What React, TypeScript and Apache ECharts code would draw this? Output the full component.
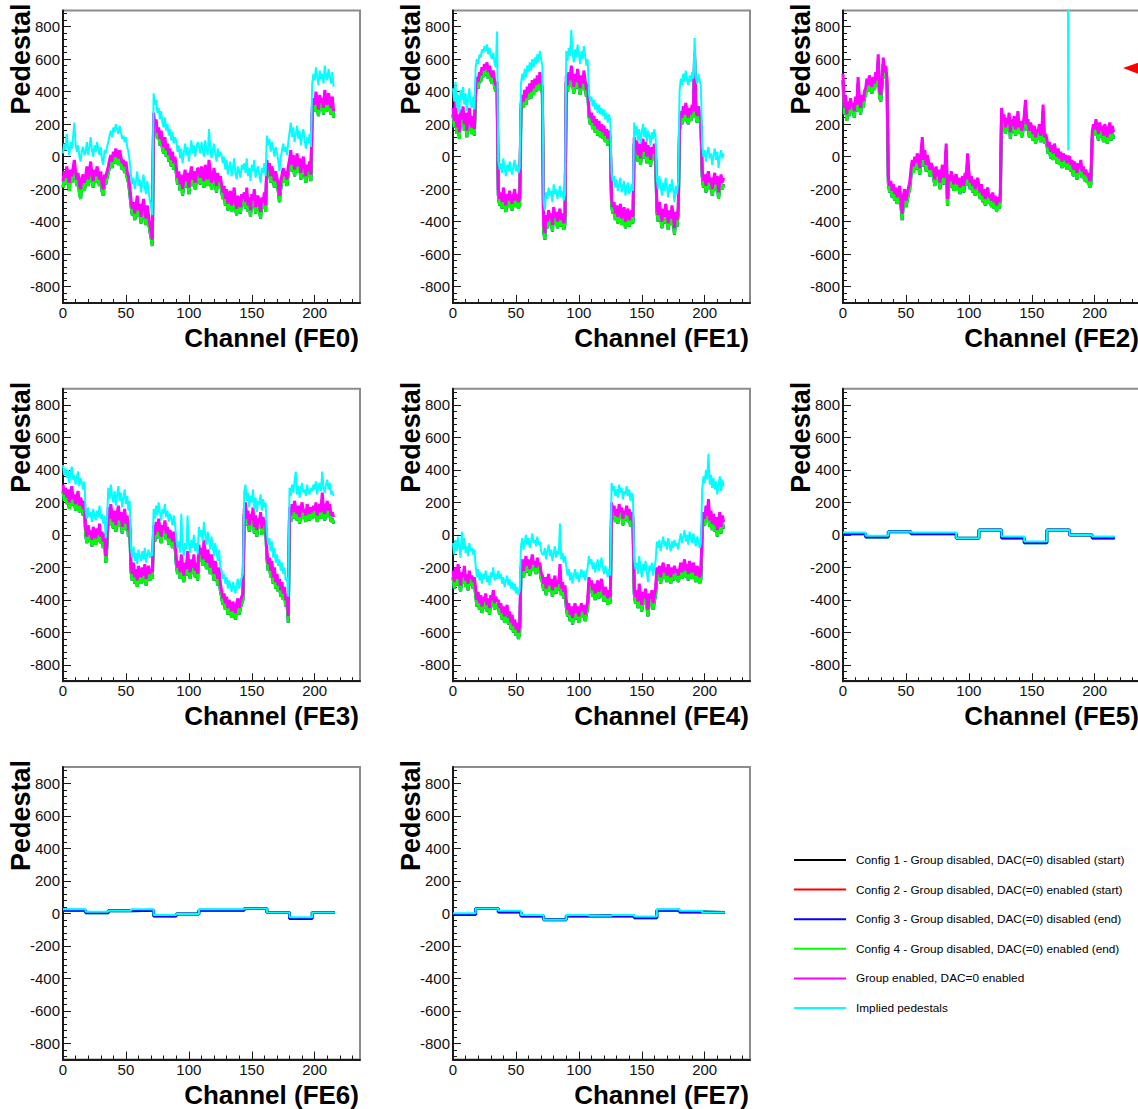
import React, { useEffect, useRef } from "react";
import * as echarts from "echarts";

// ---- Series names, colours and widths (legend order) ----
const SERIES_NAMES = [
  "Config 1 - Group disabled, DAC(=0) disabled (start)",
  "Config 2 - Group disabled, DAC(=0) enabled (start)",
  "Config 3 - Group disabled, DAC(=0) disabled (end)",
  "Config 4 - Group disabled, DAC(=0) enabled (end)",
  "Group enabled, DAC=0 enabled",
  "Implied pedestals",
];
const SERIES_COLORS = ["#000000", "#ff0000", "#0000ff", "#00ff00", "#ff00ff", "#00ffff"];
const SERIES_WIDTHS = [1, 1, 3, 3, 3, 2];

// ---- Axis ticks ----
const X_MIN = 0;
const X_MAX = 236;
const X_MAJOR = [0, 50, 100, 150, 200];
const X_MINOR = [10, 20, 30, 40, 60, 70, 80, 90, 110, 120, 130, 140, 160, 170, 180, 190, 210, 220, 230];
const Y_MIN = -900;
const Y_MAX = 900;
const Y_MAJOR = [-800, -600, -400, -200, 0, 200, 400, 600, 800];
const Y_MINOR = [
  -880, -840, -760, -720, -680, -640, -560, -520, -480, -440, -360, -320, -280, -240, -160, -120, -80, -40,
  40, 80, 120, 160, 240, 280, 320, 360, 440, 480, 520, 560, 640, 680, 720, 760, 840, 880,
];

// ---- FE0 pedestals per channel ----
const FE0_GRP = [
  -150, -90, -130, -60, -110, -160, -80, -120, -70, -20, -90, -140, -100, -170, -200, -130, -110, -160,
  -120, -60, -140, -90, -30, -110, -150, -80, -120, -60, -100, -140, -90, -170, -200, -110, -130, -90,
  -60, -20, 10, -30, 30, 0, 50, 20, -10, 40, 0, -40, -20, -60, -30, -90, -120, -180,
  -260, -320, -280, -350, -300, -240, -330, -290, -370, -310, -260, -340, -380, -300, -360, -420, -460, -510,
  270, 200, 230, 150, 180, 110, 160, 90, 60, 120, 40, 80, 10, 50, -20, 30, -40, 0,
  -60, -130, -90, -170, -110, -200, -140, -80, -150, -100, -190, -120, -60, -140, -90, -160, -110, -70,
  -80, -130, -60, -110, -150, -50, -100, -140, -20, -90, -160, -110, -70, -130, -180, -100, -150, -120,
  -170, -220, -180, -260, -200, -290, -240, -210, -300, -250, -190, -280, -320, -240, -270, -310, -230, -260,
  -220, -280, -190, -300, -250, -330, -230, -270, -200, -310, -260, -240, -290, -340, -250, -280, -220, -300,
  -20, -80, -40, -120, -60, -100, -150, -90, -130, -170, -240, -160, -110, -70, -120, -90, -140, -60,
  -20, 40, -50, 10, -80, -30, 20, -60, -10, -100, -40, 0, -70, -120, -50, -90, -30, -110,
  300, 360, 320, 400, 340, 290, 380, 330, 360, 300, 410, 350, 320, 390, 340, 300, 370, 280,
];
const FE0_IMP = [
  20, 80, 40, 140, 60, 10, 90, 50, 120, 210, 80, 30, 70, 0, -30, 40, 60, 10,
  30, 90, 10, 60, 120, 40, 0, 70, 30, 90, 50, 10, 60, -20, -50, 40, 20, 60,
  90, 130, 160, 120, 180, 150, 200, 170, 140, 190, 150, 110, 130, 90, 120, 60, 30, -30,
  -110, -170, -130, -200, -150, -90, -180, -140, -220, -160, -110, -190, -230, -150, -210, -270, -310, -360,
  390, 320, 350, 270, 300, 230, 280, 210, 180, 240, 160, 200, 130, 170, 100, 150, 80, 120,
  100, 30, 70, -10, 50, -40, 20, 80, 10, 60, -30, 40, 100, 20, 70, 0, 50, 90,
  70, 20, 90, 40, 0, 100, 50, 10, 170, 60, -10, 40, 80, 20, -30, 50, 0, 30,
  10, -40, 0, -80, -20, -110, -60, -30, -120, -70, -10, -100, -140, -60, -90, -130, -50, -80,
  -40, -100, -10, -120, -70, -150, -50, -90, -20, -130, -80, -60, -110, -160, -70, -100, -40, -120,
  130, 70, 110, 30, 90, 50, 0, 60, 20, -20, -90, -10, 40, 80, 30, 60, 10, 90,
  150, 210, 120, 180, 90, 140, 190, 110, 160, 70, 130, 170, 100, 50, 120, 80, 140, 60,
  450, 510, 470, 550, 490, 440, 530, 480, 510, 450, 560, 500, 470, 540, 490, 450, 520, 430,
];
const FE0_CFG = [
  -190, -130, -170, -100, -150, -210, -120, -160, -110, -60, -130, -180, -140, -220, -260, -170, -150, -210,
  -160, -100, -180, -130, -70, -150, -190, -120, -160, -100, -140, -180, -130, -210, -240, -150, -170, -130,
  -100, -60, -30, -70, -10, -40, 10, -20, -50, 0, -40, -80, -60, -100, -70, -130, -160, -220,
  -300, -360, -320, -390, -340, -280, -370, -330, -410, -350, -300, -380, -420, -340, -400, -460, -500, -550,
  230, 160, 190, 110, 140, 70, 120, 50, 20, 80, 0, 40, -30, 10, -60, -10, -80, -40,
  -100, -170, -130, -210, -150, -240, -180, -120, -190, -140, -230, -160, -100, -180, -130, -200, -150, -110,
  -120, -170, -100, -150, -190, -90, -140, -180, -60, -130, -200, -150, -110, -170, -220, -140, -190, -160,
  -210, -260, -220, -300, -240, -330, -280, -250, -340, -290, -230, -320, -360, -280, -310, -350, -270, -300,
  -260, -320, -230, -340, -290, -370, -270, -310, -240, -350, -300, -280, -330, -380, -290, -320, -260, -340,
  -60, -120, -80, -160, -100, -140, -190, -130, -170, -210, -280, -200, -150, -110, -160, -130, -180, -100,
  -60, 0, -90, -30, -120, -70, -20, -100, -50, -140, -80, -40, -110, -160, -90, -130, -70, -150,
  260, 320, 280, 360, 300, 250, 340, 290, 320, 260, 370, 310, 280, 350, 300, 260, 330, 240,
];

// ---- FE1 ----
const FE1_GRP = [
  300, 220, 340, 180, 260, 150, 290, 230, 310, 200, 270, 160, 240, 300, 210, 180, 250, 170,
  440, 490, 460, 520, 500, 550, 530, 570, 540, 580, 520, 560, 510, 490, 530, 470, 440, 460,
  -200, -260, -220, -280, -190, -250, -300, -230, -270, -210, -260, -290, -240, -200, -270, -230, -280, -250,
  320, 380, 340, 410, 360, 430, 390, 450, 400, 470, 420, 480, 440, 500, 450, 520, 470, 430,
  -420, -470, -360, -400, -330, -380, -350, -420, -310, -370, -340, -400, -360, -320, -390, -350, -410, -370,
  500, 440, 520, 470, 560, 490, 430, 510, 460, 540, 480, 420, 500, 450, 530, 470, 410, 450,
  290, 240, 270, 210, 250, 190, 230, 170, 220, 160, 200, 150, 190, 130, 170, 110, 160, 120,
  -260, -310, -280, -350, -300, -370, -330, -290, -380, -340, -310, -400, -350, -320, -390, -360, -330, -370,
  120, 40, 100, 10, 80, -10, 60, 110, 30, 90, 0, 70, 40, -20, 60, 20, 80, 30,
  -300, -360, -280, -340, -400, -320, -370, -290, -350, -410, -330, -380, -300, -360, -440, -340, -390, -310,
  200, 280, 240, 310, 260, 330, 270, 240, 300, 260, 320, 280, 640, 290, 250, 310, 270, 230,
  -80, -150, -110, -180, -120, -90, -160, -130, -200, -140, -100, -170, -120, -220, -150, -110, -160, -130,
];
const FE1_IMP = [
  420, 340, 460, 300, 380, 270, 410, 350, 430, 320, 390, 280, 360, 420, 330, 300, 370, 290,
  550, 600, 570, 630, 610, 660, 640, 680, 650, 690, 630, 670, 620, 600, 640, 580, 550, 770,
  -20, -80, -40, -100, -10, -70, -120, -50, -90, -30, -80, -110, -60, -20, -90, -50, -100, -70,
  450, 510, 470, 540, 490, 560, 520, 580, 530, 600, 550, 610, 570, 630, 580, 650, 600, 560,
  -280, -330, -220, -260, -190, -240, -210, -280, -170, -230, -200, -260, -220, -180, -250, -210, -270, -230,
  650, 590, 670, 620, 780, 640, 580, 660, 610, 690, 630, 570, 650, 600, 680, 620, 560, 600,
  390, 340, 370, 310, 350, 290, 330, 270, 320, 260, 300, 250, 290, 230, 270, 210, 260, 220,
  -100, -150, -120, -190, -140, -210, -170, -130, -220, -180, -150, -240, -190, -160, -230, -200, -170, -210,
  210, 130, 190, 100, 170, 80, 150, 200, 120, 180, 90, 160, 130, 70, 150, 110, 170, 120,
  -140, -200, -120, -180, -240, -160, -210, -130, -190, -250, -170, -220, -140, -200, -280, -180, -230, -150,
  400, 480, 440, 510, 460, 530, 470, 440, 500, 460, 520, 480, 730, 490, 450, 510, 470, 430,
  70, 0, 40, -30, 30, 60, -10, 20, -50, 10, 50, -20, 30, -70, 0, 40, -10, 20,
];
const FE1_CFG = [
  260, 180, 300, 140, 220, 110, 250, 190, 270, 160, 230, 120, 200, 260, 170, 140, 210, 130,
  400, 450, 420, 480, 460, 510, 490, 530, 500, 540, 480, 520, 470, 450, 490, 430, 400, 420,
  -240, -300, -260, -320, -230, -290, -340, -270, -310, -250, -300, -330, -280, -240, -310, -270, -320, -290,
  280, 340, 300, 370, 320, 390, 350, 410, 360, 430, 380, 440, 400, 460, 410, 480, 430, 390,
  -460, -510, -400, -440, -370, -420, -390, -460, -350, -410, -380, -440, -400, -360, -430, -390, -450, -410,
  460, 400, 480, 430, 520, 450, 390, 470, 420, 500, 440, 380, 460, 410, 490, 430, 370, 410,
  250, 200, 230, 170, 210, 150, 190, 130, 180, 120, 160, 110, 150, 90, 130, 70, 120, 80,
  -300, -350, -320, -390, -340, -410, -370, -330, -420, -380, -350, -440, -390, -360, -430, -400, -370, -410,
  80, 0, 60, -30, 40, -50, 20, 70, -10, 50, -40, 30, 0, -60, 20, -20, 40, -10,
  -340, -400, -320, -380, -440, -360, -410, -330, -390, -450, -370, -420, -340, -400, -480, -380, -430, -350,
  160, 240, 200, 270, 220, 290, 230, 200, 260, 220, 280, 240, 600, 250, 210, 270, 230, 190,
  -120, -190, -150, -220, -160, -130, -200, -170, -240, -180, -140, -210, -160, -260, -190, -150, -200, -170,
];

// ---- FE2 ----
const FE2_GRP = [
  510, 300, 380, 260, 340, 290, 360, 310, 330, 280, 370, 320, 490, 350, 300, 380, 340, 400,
  420, 480, 440, 500, 460, 430, 490, 450, 520, 470, 630, 410, 380, 470, 610, 520, 560, 480,
  -120, -180, -150, -210, -170, -230, -190, -250, -220, -180, -260, -350, -240, -200, -270, -230, -190, -160,
  -80, -20, -60, 0, -40, 20, -10, -70, 30, 120, -20, 40, -50, 10, -30, -80, -40, -60,
  -90, -140, -60, -120, -80, -160, -100, -50, -130, -70, 80, -260, -110, -150, -90, -130, -170, -120,
  -110, -170, -130, -190, -150, -120, -180, -100, -140, 20, -90, -160, -120, -180, -140, -200, -160, -130,
  -180, -220, -170, -240, -200, -260, -210, -190, -250, -230, -270, -220, -280, -240, -300, -250, -280, -230,
  300, 220, 260, 180, 240, 200, 270, 150, 230, 190, 250, 170, 210, 280, 180, 220, 160, 200,
  250, 350, 200, 230, 160, 210, 180, 140, 190, 120, 170, 150, 200, 130, 160, 320, 120, 140,
  110, 60, 90, 30, 70, 20, 80, 40, 0, 50, -10, 30, -30, 20, -20, 10, -40, 0,
  0, -50, -20, -80, -30, -60, -100, -40, -70, -20, -90, -60, -110, -80, -120, -100, -150, -130,
  150, 200, 170, 230, 180, 140, 210, 160, 190, 130, 200, 170, 120, 180, 210, 140, 190, 150,
];
// Implied pedestal for FE2 is off scale except at channel 179
const FE2_IMP_POINTS = [
  [178, 4000],
  [179, 40],
  [180, 4000],
];
const FE2_CFG = [
  470, 260, 340, 220, 300, 250, 320, 270, 290, 240, 330, 280, 450, 310, 260, 340, 300, 360,
  380, 440, 400, 460, 420, 390, 450, 410, 480, 430, 590, 370, 340, 430, 570, 480, 520, 440,
  -160, -220, -190, -250, -210, -270, -230, -290, -260, -220, -300, -390, -280, -240, -310, -270, -230, -200,
  -120, -60, -100, -40, -80, -20, -50, -110, -10, 80, -60, 0, -90, -30, -70, -120, -80, -100,
  -130, -180, -100, -160, -120, -200, -140, -90, -170, -110, 40, -300, -150, -190, -130, -170, -210, -160,
  -150, -210, -170, -230, -190, -160, -220, -140, -180, -20, -130, -200, -160, -220, -180, -240, -200, -170,
  -220, -260, -210, -280, -240, -300, -250, -230, -290, -270, -310, -260, -320, -280, -340, -290, -320, -270,
  260, 180, 220, 140, 200, 160, 230, 110, 190, 150, 210, 130, 170, 240, 140, 180, 120, 160,
  210, 310, 160, 190, 120, 170, 140, 100, 150, 80, 130, 110, 160, 90, 120, 280, 80, 100,
  70, 20, 50, -10, 30, -20, 40, 0, -40, 10, -50, -10, -70, -20, -60, -30, -80, -40,
  -40, -90, -60, -120, -70, -100, -140, -80, -110, -60, -130, -100, -150, -120, -160, -140, -190, -170,
  110, 160, 130, 190, 140, 100, 170, 120, 150, 90, 160, 130, 80, 140, 170, 100, 150, 110,
];

// ---- FE3 ----
const FE3_GRP = [
  310, 250, 290, 230, 280, 200, 260, 300, 220, 250, 190, 240, 270, 180, 230, 200, 160, 210,
  40, -10, 60, 0, 30, -30, 50, 10, -20, 40, 0, 70, -10, 20, -40, 10, -130, -20,
  170, 100, 190, 120, 80, 150, 60, 130, 180, 90, 140, 50, 110, 160, 70, 120, 30, 90,
  -180, -240, -170, -260, -210, -280, -190, -230, -260, -200, -250, -180, -270, -220, -190, -240, -210, -230,
  60, 0, 80, 20, 100, 40, -10, 60, 30, 90, 10, 50, -20, 30, 0, -40, 20, -30,
  -140, -200, -160, -230, -120, -190, -250, -170, -210, -100, -180, -230, -150, -200, -120, -220, -170, -240,
  -60, -120, -80, -150, -30, -110, -170, -90, -140, -200, -120, -180, -240, -160, -220, -270, -200, -300,
  -340, -390, -360, -420, -380, -450, -400, -430, -470, -410, -440, -480, -420, -390, -450, -410, -380, -360,
  160, 200, 100, 150, 60, 130, 90, 170, 50, 120, 30, 100, 80, 140, 40, 110, 60, 90,
  -100, -180, -140, -220, -160, -260, -200, -290, -240, -310, -270, -340, -290, -360, -320, -400, -380, -500,
  170, 120, 190, 140, 210, 160, 130, 180, 110, 170, 200, 140, 160, 120, 190, 150, 130, 170,
  140, 180, 150, 200, 120, 170, 190, 140, 260, 160, 130, 180, 210, 150, 190, 120, 140, 110,
];
const FE3_IMP = [
  430, 370, 410, 350, 400, 320, 380, 420, 340, 370, 310, 360, 390, 300, 350, 320, 280, 330,
  150, 100, 170, 110, 140, 80, 160, 120, 90, 150, 110, 180, 100, 130, 70, 120, -20, 90,
  290, 220, 310, 240, 200, 270, 180, 250, 300, 210, 260, 170, 230, 280, 190, 240, 150, 210,
  -80, -140, -70, -160, -110, -180, -90, -130, -160, -100, -150, -80, -170, -120, -90, -140, -110, -130,
  160, 100, 180, 120, 200, 140, 90, 160, 130, 190, 110, 150, 80, 130, 100, 60, 120, 70,
  -20, -80, -40, -110, 130, -70, -130, -50, -90, 120, -60, -110, -30, -80, 0, -100, -50, -120,
  50, -10, 30, -40, 80, 0, -60, 20, -30, -90, -10, -70, -130, -50, -110, -160, -90, -190,
  -220, -270, -240, -300, -260, -330, -280, -310, -350, -290, -320, -360, -300, -270, -330, -290, -260, -240,
  270, 310, 210, 260, 170, 240, 200, 280, 160, 230, 140, 210, 190, 250, 150, 220, 170, 200,
  20, -60, -20, -100, -40, -140, -80, -170, -120, -190, -150, -220, -170, -240, -200, -280, -260, -380,
  290, 240, 310, 260, 330, 390, 250, 300, 230, 290, 320, 260, 280, 240, 310, 270, 250, 290,
  270, 310, 280, 330, 250, 300, 320, 270, 390, 290, 260, 310, 340, 280, 320, 250, 270, 240,
];
const FE3_CFG = [
  270, 210, 250, 190, 240, 160, 220, 260, 180, 210, 150, 200, 230, 140, 190, 160, 120, 170,
  0, -50, 20, -40, -10, -70, 10, -30, -60, 0, -40, 30, -50, -20, -80, -30, -170, -60,
  130, 60, 150, 80, 40, 110, 20, 90, 140, 50, 100, 10, 70, 120, 30, 80, -10, 50,
  -220, -280, -210, -300, -250, -320, -230, -270, -300, -240, -290, -220, -310, -260, -230, -280, -250, -270,
  20, -40, 40, -20, 60, 0, -50, 20, -10, 50, -30, 10, -60, -10, -40, -80, -20, -70,
  -180, -240, -200, -270, -160, -230, -290, -210, -250, -140, -220, -270, -190, -240, -160, -260, -210, -280,
  -100, -160, -120, -190, -70, -150, -210, -130, -180, -240, -160, -220, -280, -200, -260, -310, -240, -340,
  -380, -430, -400, -460, -420, -490, -440, -470, -510, -450, -480, -520, -460, -430, -490, -450, -420, -400,
  120, 160, 60, 110, 20, 90, 50, 130, 10, 80, -10, 60, 40, 100, 0, 70, 20, 50,
  -140, -220, -180, -260, -200, -300, -240, -330, -280, -350, -310, -380, -330, -400, -360, -440, -420, -540,
  130, 80, 150, 100, 170, 120, 90, 140, 70, 130, 160, 100, 120, 80, 150, 110, 90, 130,
  100, 140, 110, 160, 80, 130, 150, 100, 220, 120, 90, 140, 170, 110, 150, 80, 100, 70,
];

// ---- FE4 ----
const FE4_GRP = [
  -220, -290, -200, -270, -180, -240, -310, -230, -260, -190, -280, -240, -300, -220, -270, -250, -290, -260,
  -330, -400, -350, -420, -370, -440, -380, -410, -360, -430, -390, -450, -370, -400, -340, -420, -380, -410,
  -400, -450, -420, -480, -440, -500, -460, -430, -510, -470, -540, -490, -560, -520, -580, -540, -600, -560,
  -200, -150, -220, -170, -130, -190, -150, -210, -170, -120, -180, -160, -200, -140, -190, -170, -230, -250,
  -300, -260, -330, -280, -240, -310, -270, -340, -290, -250, -320, -280, -300, -180, -330, -290, -350, -310,
  -400, -460, -420, -490, -440, -510, -460, -420, -480, -440, -500, -460, -420, -470, -430, -490, -450, -410,
  -260, -310, -280, -340, -300, -360, -320, -280, -350, -310, -270, -330, -370, -320, -350, -390, -340, -380,
  200, 150, 180, 120, 160, 110, 190, 140, 170, 100, 150, 130, 180, 120, 160, 90, 140, 110,
  -320, -380, -340, -410, -300, -370, -430, -350, -390, -330, -400, -460, -360, -390, -340, -420, -370, -330,
  -200, -240, -190, -260, -210, -170, -230, -200, -250, -180, -220, -260, -200, -240, -190, -230, -210, -250,
  -210, -170, -230, -190, -150, -220, -180, -240, -160, -200, -230, -170, -210, -250, -190, -220, -260, -230,
  60, 140, 100, 180, 120, 220, 90, 150, 70, 130, 60, 110, 30, 90, 140, 50, 120, 80,
];
const FE4_IMP = [
  -50, -120, -30, -100, -10, -70, -140, 20, -90, -20, -110, -70, -130, -50, -100, -80, -120, -90,
  -190, -260, -210, -280, -230, -300, -240, -270, -220, -290, -250, -310, -230, -260, -200, -280, -240, -270,
  -220, -270, -240, -300, -260, -320, -280, -250, -310, -270, -330, -290, -340, -300, -360, -320, -370, -340,
  -70, -20, -90, -40, 0, -60, -20, -80, -40, 10, -50, -30, -70, -10, -60, -40, -100, -120,
  -120, -80, -150, -100, -60, -130, -90, -160, -110, -70, -140, -100, -120, 70, -150, -110, -170, -130,
  -190, -250, -210, -280, -230, -300, -250, -210, -270, -230, -290, -250, -210, -260, -220, -280, -240, -200,
  -130, -180, -150, -210, -170, -230, -190, -150, -220, -180, -140, -200, -240, -190, -220, -260, -210, -250,
  320, 270, 300, 240, 280, 230, 310, 260, 290, 220, 270, 250, 300, 240, 280, 210, 260, 230,
  -150, -210, -170, -240, -130, -200, -260, -180, -220, -160, -230, -290, -190, -220, -170, -250, -200, -160,
  -40, -80, -30, -100, -50, -10, -70, -40, -90, -20, -60, -100, -40, -80, -30, -70, -50, -90,
  -30, 10, -50, -10, 30, -40, 0, -60, 20, -20, -50, 10, -30, -70, -10, -40, -80, -50,
  280, 360, 320, 400, 340, 500, 310, 370, 290, 350, 280, 330, 250, 310, 360, 270, 340, 300,
];
const FE4_CFG = [
  -260, -330, -240, -310, -220, -280, -350, -270, -300, -230, -320, -280, -340, -260, -310, -290, -330, -300,
  -370, -440, -390, -460, -410, -480, -420, -450, -400, -470, -430, -490, -410, -440, -380, -460, -420, -450,
  -440, -490, -460, -520, -480, -540, -500, -470, -550, -510, -580, -530, -600, -560, -620, -580, -640, -600,
  -240, -190, -260, -210, -170, -230, -190, -250, -210, -160, -220, -200, -240, -180, -230, -210, -270, -290,
  -340, -300, -370, -320, -280, -350, -310, -380, -330, -290, -360, -320, -340, -220, -370, -330, -390, -350,
  -440, -500, -460, -530, -480, -550, -500, -460, -520, -480, -540, -500, -460, -510, -470, -530, -490, -450,
  -300, -350, -320, -380, -340, -400, -360, -320, -390, -350, -310, -370, -410, -360, -390, -430, -380, -420,
  160, 110, 140, 80, 120, 70, 150, 100, 130, 60, 110, 90, 140, 80, 120, 50, 100, 70,
  -360, -420, -380, -450, -340, -410, -470, -390, -430, -370, -440, -500, -400, -430, -380, -460, -410, -370,
  -240, -280, -230, -300, -250, -210, -270, -240, -290, -220, -260, -300, -240, -280, -230, -270, -250, -290,
  -250, -210, -270, -230, -190, -260, -220, -280, -200, -240, -270, -210, -250, -290, -230, -260, -300, -270,
  20, 100, 60, 140, 80, 180, 50, 110, 30, 90, 20, 70, -10, 50, 100, 10, 80, 40,
];

// ---- FE5..FE7: one pedestal per group of 18 channels ----
const CHANNELS_PER_GROUP = 18;
const FE5_IMP = [15, -5, 20, 15, 15, -20, 30, -10, -40, 30, 0, -10];
const FE5_CFG = [8, -12, 20, 8, 8, -20, 30, -18, -48, 30, 0, -18];
const FE6_IMP = [25, 10, 15, 25, -10, -5, 25, 25, 30, 5, -25, 5];
const FE6_CFG = [18, 3, 15, 18, -17, -5, 18, 18, 30, 5, -32, 5];
const FE7_IMP = [0, 30, 15, -10, -40, -10, -15, -10, -20, 25, 15, 5];
const FE7_CFG = [-7, 30, 8, -17, -40, -17, -15, -17, -27, 18, 8, 5];

const FONT = '"Liberation Sans", Arial, Helvetica, sans-serif';

type Panel = {
  label: string;
  kind: "channel" | "group";
  cfg: number[];
  grp?: number[];
  imp?: number[];
  impPoints?: number[][];
};

const PANELS: Panel[] = [
  { label: "FE0", kind: "channel", cfg: FE0_CFG, grp: FE0_GRP, imp: FE0_IMP },
  { label: "FE1", kind: "channel", cfg: FE1_CFG, grp: FE1_GRP, imp: FE1_IMP },
  { label: "FE2", kind: "channel", cfg: FE2_CFG, grp: FE2_GRP, impPoints: FE2_IMP_POINTS },
  { label: "FE3", kind: "channel", cfg: FE3_CFG, grp: FE3_GRP, imp: FE3_IMP },
  { label: "FE4", kind: "channel", cfg: FE4_CFG, grp: FE4_GRP, imp: FE4_IMP },
  { label: "FE5", kind: "group", cfg: FE5_CFG, imp: FE5_IMP },
  { label: "FE6", kind: "group", cfg: FE6_CFG, imp: FE6_IMP },
  { label: "FE7", kind: "group", cfg: FE7_CFG, imp: FE7_IMP },
];

// layout of the 3x3 pad grid (pixels)
const PAD_LEFT = 63;
const PAD_TOP = 10.4;
const PAD_DX = 390;
const PAD_DY = 378.3;
const PAD_W = 297;
const PAD_H = 292.5;

function perChannel(values: number[]) {
  return values.map((v, ch) => [ch, v]);
}

function perGroup(values: number[]) {
  const pts = values.map((v, g) => [g * CHANNELS_PER_GROUP, v]);
  pts.push([values.length * CHANNELS_PER_GROUP, values[values.length - 1]]);
  return pts;
}

function buildOption() {
  const grid: any[] = [];
  const xAxis: any[] = [];
  const yAxis: any[] = [];
  const series: any[] = [];
  const graphic: any[] = [];

  const axisColor = "#1a1a1a";
  const labelStyle = { fontSize: 15, fontFamily: FONT, color: "#111" };

  PANELS.forEach((p, i) => {
    const row = Math.floor(i / 3);
    const col = i % 3;
    const left = PAD_LEFT + col * PAD_DX;
    const top = PAD_TOP + row * PAD_DY;

    grid.push({
      left,
      top,
      width: PAD_W,
      height: PAD_H,
      show: true,
      borderColor: "#8c8c8c",
      borderWidth: 2,
      backgroundColor: "#ffffff",
      containLabel: false,
      outerBoundsMode: "none",
    });

    const common = { gridIndex: i, type: "value", splitLine: { show: false } };
    xAxis.push({
      ...common,
      min: X_MIN,
      max: X_MAX,
      position: "bottom",
      axisLine: { show: true, onZero: false, lineStyle: { color: axisColor, width: 2 } },
      axisTick: { show: true, inside: true, length: 8, customValues: X_MAJOR, lineStyle: { color: axisColor, width: 1 } },
      axisLabel: { show: true, customValues: X_MAJOR, margin: 2, ...labelStyle },
    });
    xAxis.push({
      ...common,
      min: X_MIN,
      max: X_MAX,
      position: "bottom",
      axisLine: { show: false, onZero: false },
      axisTick: { show: true, inside: true, length: 4, customValues: X_MINOR, lineStyle: { color: axisColor, width: 1 } },
      axisLabel: { show: false },
    });
    yAxis.push({
      ...common,
      min: Y_MIN,
      max: Y_MAX,
      position: "left",
      axisLine: { show: true, onZero: false, lineStyle: { color: axisColor, width: 2 } },
      axisTick: { show: true, inside: true, length: 8, customValues: Y_MAJOR, lineStyle: { color: axisColor, width: 1 } },
      axisLabel: { show: true, customValues: Y_MAJOR, margin: 3, ...labelStyle },
    });
    yAxis.push({
      ...common,
      min: Y_MIN,
      max: Y_MAX,
      position: "left",
      axisLine: { show: false, onZero: false },
      axisTick: { show: true, inside: true, length: 4, customValues: Y_MINOR, lineStyle: { color: axisColor, width: 1 } },
      axisLabel: { show: false },
    });

    const xi = 2 * i;
    const yi = 2 * i;
    const toPts = p.kind === "group" ? perGroup : perChannel;
    const step = p.kind === "group" ? "end" : false;

    const mk = (k: number, data: number[][]) => ({
      type: "line",
      name: SERIES_NAMES[k],
      xAxisIndex: xi,
      yAxisIndex: yi,
      data,
      step,
      symbol: "none",
      showSymbol: false,
      clip: true,
      silent: true,
      animation: false,
      lineStyle: { color: SERIES_COLORS[k], width: SERIES_WIDTHS[k] },
      itemStyle: { color: SERIES_COLORS[k] },
      emphasis: { disabled: true },
    });

    const cfgPts = toPts(p.cfg);
    // in the group-level pads the "end" configs coincide; config 3 is drawn over config 4
    const cfgOrder = p.kind === "group" ? [0, 1, 3, 2] : [0, 1, 2, 3];
    cfgOrder.forEach((k) => series.push(mk(k, cfgPts)));
    if (p.grp) series.push(mk(4, toPts(p.grp)));
    if (p.imp) series.push(mk(5, toPts(p.imp)));
    if (p.impPoints) series.push(mk(5, p.impPoints));

    graphic.push({
      type: "text",
      x: left - 42,
      y: top - 7,
      rotation: Math.PI / 2,
      silent: true,
      style: {
        text: "Pedestal",
        font: `bold 27px ${FONT}`,
        fill: "#000",
        textAlign: "right",
        textVerticalAlign: "middle",
        verticalAlign: "middle",
      },
    });
    graphic.push({
      type: "text",
      x: left + PAD_W - 1,
      y: top + PAD_H + 35,
      silent: true,
      style: {
        text: `Channel (${p.label})`,
        font: `bold 26px ${FONT}`,
        fill: "#000",
        textAlign: "right",
        textVerticalAlign: "middle",
        verticalAlign: "middle",
      },
    });
  });

  // red marker at the right edge of the FE2 pad
  graphic.push({
    type: "polygon",
    silent: true,
    shape: { points: [[1123, 68], [1139, 62.5], [1139, 74]] },
    style: { fill: "#ff0000" },
  });

  return {
    animation: false,
    backgroundColor: "#ffffff",
    grid,
    xAxis,
    yAxis,
    series,
    graphic,
    legend: {
      data: SERIES_NAMES,
      orient: "vertical",
      left: 788,
      top: 848,
      itemWidth: 52,
      itemHeight: 14,
      itemGap: 15.6,
      selectedMode: false,
      itemStyle: { opacity: 0 },
      textStyle: {
        fontSize: 11.8,
        lineHeight: 14,
        fontFamily: FONT,
        color: "#000",
        padding: [0, 0, 0, 5],
      },
    },
  };
}

export default function App() {
  const ref = useRef<HTMLDivElement>(null);
  useEffect(() => {
    if (!ref.current) return;
    const chart = echarts.init(ref.current, undefined, { renderer: "svg" });
    chart.setOption(buildOption() as any);
    return () => chart.dispose();
  }, []);
  return (
    <div
      ref={ref}
      style={{ position: "absolute", left: 0, top: 0, width: 1138, height: 1109, background: "#fff" }}
    />
  );
}
